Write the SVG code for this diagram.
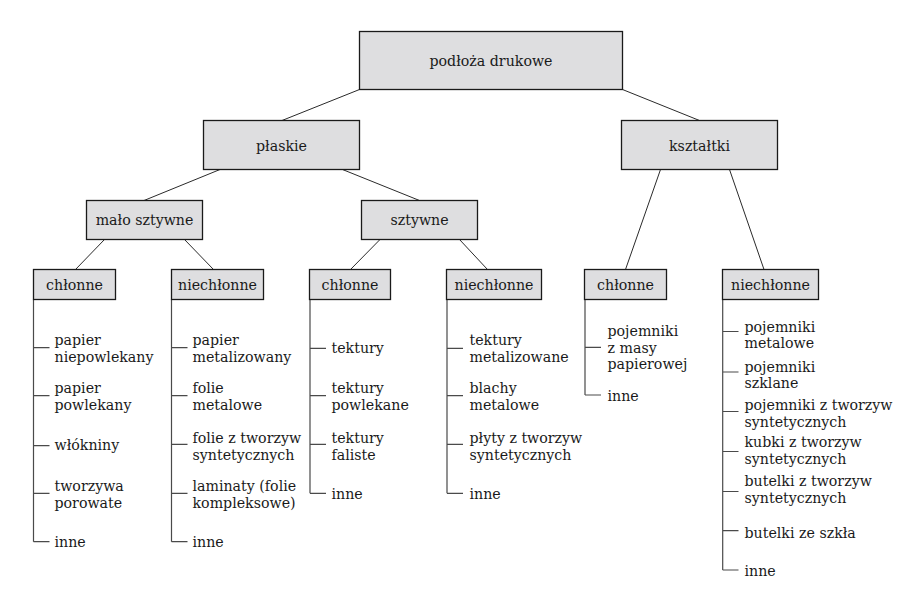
<svg xmlns="http://www.w3.org/2000/svg" width="914" height="603" viewBox="0 0 914 603">
<style>
  .box { fill: #dedee0; stroke: #1a1a1a; stroke-width: 1.3; }
  .t { font-family: 'DejaVu Serif', serif; font-size: 14.2px; fill: #1a1a1a; }
  .c { text-anchor: middle; }
  .edge { stroke: #2a2a2a; stroke-width: 1; fill: none; }
  .tree { stroke: #4a4a4a; stroke-width: 1.2; fill: none; }
</style>
<rect width="914" height="603" fill="#ffffff"/>

<g id="connectors">
  <line class="edge" x1="359.5" y1="89.5" x2="282" y2="120.5"/>
  <line class="edge" x1="622.5" y1="89.5" x2="699.5" y2="120.5"/>
  <line class="edge" x1="220" y1="169.5" x2="144" y2="200.5"/>
  <line class="edge" x1="342.5" y1="169.5" x2="419.5" y2="200.5"/>
  <line class="edge" x1="104.5" y1="239.5" x2="75.5" y2="269.5"/>
  <line class="edge" x1="184.5" y1="239.5" x2="213.5" y2="269.5"/>
  <line class="edge" x1="380" y1="239.5" x2="350.5" y2="269.5"/>
  <line class="edge" x1="459.5" y1="239.5" x2="487.5" y2="269.5"/>
  <line class="edge" x1="660.5" y1="169.5" x2="625.5" y2="269.5"/>
  <line class="edge" x1="729.5" y1="169.5" x2="764" y2="269.5"/>

  <path class="tree" d="M33.5 299.5 V541.7 M33.5 347.7 H49.5 M33.5 395.7 H49.5 M33.5 445.7 H49.5 M33.5 493.3 H49.5 M33.5 541.7 H49.5"/>
  <path class="tree" d="M171.5 299.5 V541.7 M171.5 347.7 H187.5 M171.5 395.7 H187.5 M171.5 444.3 H187.5 M171.5 493.3 H187.5 M171.5 541.7 H187.5"/>
  <path class="tree" d="M310 299.5 V493.3 M310 348.3 H326 M310 395.7 H326 M310 444.3 H326 M310 493.3 H326"/>
  <path class="tree" d="M447 299.5 V493.3 M447 348.3 H463 M447 395.7 H463 M447 444.3 H463 M447 493.3 H463"/>
  <path class="tree" d="M585 299.5 V395 M585 347.3 H601 M585 395 H601"/>
  <path class="tree" d="M722.7 299.5 V570 M722.7 331.5 H738.5 M722.7 372 H738.5 M722.7 411.5 H738.5 M722.7 451.5 H738.5 M722.7 491.5 H738.5 M722.7 530.7 H738.5 M722.7 570 H738.5"/>
</g>

<g id="root">
  <rect class="box" x="359.5" y="31.5" width="263" height="58"/>
  <text class="t c" x="491" y="65.5">podłoża drukowe</text>
</g>
<g id="plaskie">
  <rect class="box" x="203.5" y="120.5" width="156" height="49"/>
  <text class="t c" x="281.5" y="150.5">płaskie</text>
</g>
<g id="ksztaltki">
  <rect class="box" x="621.5" y="120.5" width="156" height="49"/>
  <text class="t c" x="699.5" y="150.5">kształtki</text>
</g>
<g id="malo-sztywne">
  <rect class="box" x="86.5" y="200.5" width="116" height="39"/>
  <text class="t c" x="144.5" y="225">mało sztywne</text>
</g>
<g id="sztywne">
  <rect class="box" x="361.5" y="200.5" width="116" height="39"/>
  <text class="t c" x="419.5" y="225">sztywne</text>
</g>

<g id="chlonne-1">
  <rect class="box" x="33.5" y="269.5" width="82" height="30"/>
  <text class="t c" x="74.5" y="290">chłonne</text>
</g>
<g id="niechlonne-1">
  <rect class="box" x="171.5" y="269.5" width="92" height="30"/>
  <text class="t c" x="217.5" y="290">niechłonne</text>
</g>
<g id="chlonne-2">
  <rect class="box" x="309.5" y="269.5" width="81" height="30"/>
  <text class="t c" x="350" y="290">chłonne</text>
</g>
<g id="niechlonne-2">
  <rect class="box" x="446.5" y="269.5" width="95" height="30"/>
  <text class="t c" x="494" y="290">niechłonne</text>
</g>
<g id="chlonne-3">
  <rect class="box" x="584.5" y="269.5" width="82" height="30"/>
  <text class="t c" x="625.5" y="290">chłonne</text>
</g>
<g id="niechlonne-3">
  <rect class="box" x="722.5" y="269.5" width="96" height="30"/>
  <text class="t c" x="770.5" y="290">niechłonne</text>
</g>

<g id="a1"><text class="t" x="54.5" y="344.5">papier<tspan x="54.5" dy="17">niepowlekany</tspan></text></g>
<g id="a2"><text class="t" x="54.5" y="393">papier<tspan x="54.5" dy="17">powlekany</tspan></text></g>
<g id="a3"><text class="t" x="54.5" y="450">włókniny</text></g>
<g id="a4"><text class="t" x="54.5" y="490.5">tworzywa<tspan x="54.5" dy="17">porowate</tspan></text></g>
<g id="a5"><text class="t" x="54.5" y="547">inne</text></g>

<g id="b1"><text class="t" x="192.5" y="344.5">papier<tspan x="192.5" dy="17">metalizowany</tspan></text></g>
<g id="b2"><text class="t" x="192.5" y="393">folie<tspan x="192.5" dy="17">metalowe</tspan></text></g>
<g id="b3"><text class="t" x="192.5" y="443">folie z tworzyw<tspan x="192.5" dy="17">syntetycznych</tspan></text></g>
<g id="b4"><text class="t" x="192.5" y="490.5">laminaty (folie<tspan x="192.5" dy="17">kompleksowe)</tspan></text></g>
<g id="b5"><text class="t" x="192.5" y="547">inne</text></g>

<g id="c1"><text class="t" x="331.5" y="352.5">tektury</text></g>
<g id="c2"><text class="t" x="331.5" y="393">tektury<tspan x="331.5" dy="17">powlekane</tspan></text></g>
<g id="c3"><text class="t" x="331.5" y="443">tektury<tspan x="331.5" dy="17">faliste</tspan></text></g>
<g id="c4"><text class="t" x="331.5" y="498.5">inne</text></g>

<g id="d1"><text class="t" x="469.5" y="345">tektury<tspan x="469.5" dy="17">metalizowane</tspan></text></g>
<g id="d2"><text class="t" x="469.5" y="393">blachy<tspan x="469.5" dy="17">metalowe</tspan></text></g>
<g id="d3"><text class="t" x="469.5" y="443">płyty z tworzyw<tspan x="469.5" dy="17">syntetycznych</tspan></text></g>
<g id="d4"><text class="t" x="469.5" y="498.5">inne</text></g>

<g id="e1"><text class="t" x="607.5" y="336">pojemniki<tspan x="607.5" dy="16.5">z masy</tspan><tspan x="607.5" dy="16.5">papierowej</tspan></text></g>
<g id="e2"><text class="t" x="607.5" y="400.5">inne</text></g>

<g id="f1"><text class="t" x="744.5" y="331.5">pojemniki<tspan x="744.5" dy="16.5">metalowe</tspan></text></g>
<g id="f2"><text class="t" x="744.5" y="371.5">pojemniki<tspan x="744.5" dy="16.5">szklane</tspan></text></g>
<g id="f3"><text class="t" x="744.5" y="410">pojemniki z tworzyw<tspan x="744.5" dy="16.5">syntetycznych</tspan></text></g>
<g id="f4"><text class="t" x="744.5" y="447">kubki z tworzyw<tspan x="744.5" dy="16.5">syntetycznych</tspan></text></g>
<g id="f5"><text class="t" x="744.5" y="486">butelki z tworzyw<tspan x="744.5" dy="16.5">syntetycznych</tspan></text></g>
<g id="f6"><text class="t" x="744.5" y="537.5">butelki ze szkła</text></g>
<g id="f7"><text class="t" x="744.5" y="576">inne</text></g>
</svg>
